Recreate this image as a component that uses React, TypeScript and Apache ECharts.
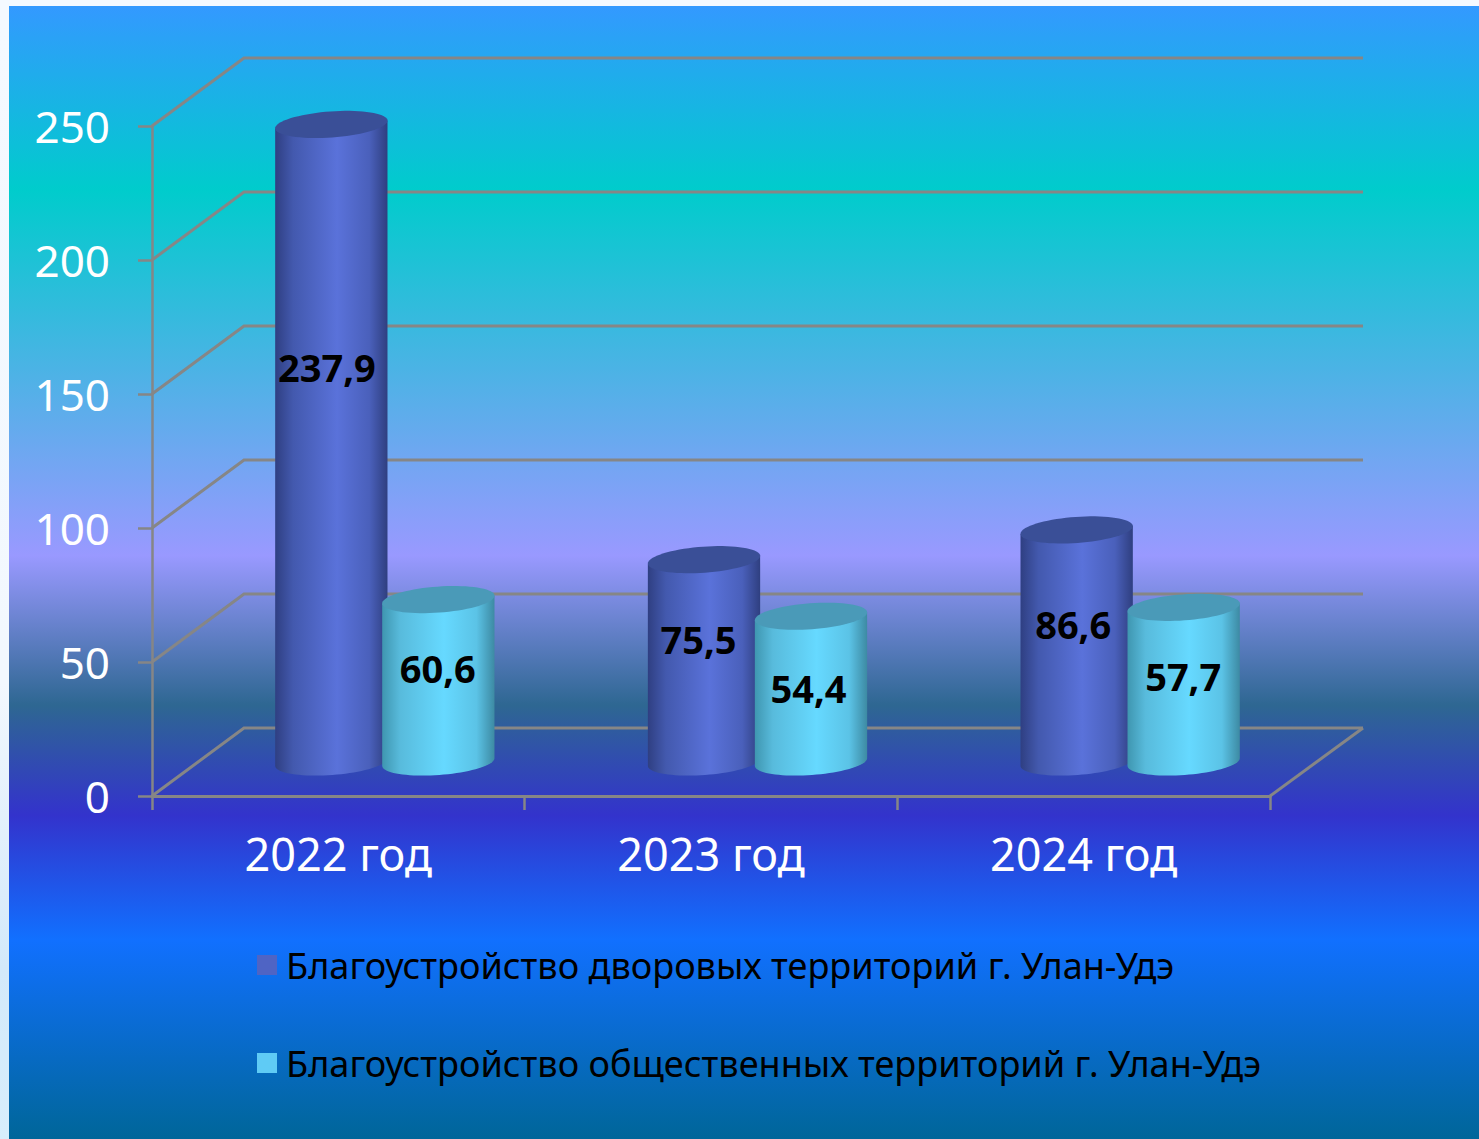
import React, { useEffect, useRef } from "react";
import * as echarts from "echarts";

const categories = ["2022 год", "2023 год", "2024 год"];
const yardValues = [237.9, 75.5, 86.6];
const publicValues = [60.6, 54.4, 57.7];
const yardLabels = ["237,9", "75,5", "86,6"];
const publicLabels = ["60,6", "54,4", "57,7"];
const yTicks = [0, 50, 100, 150, 200, 250];
const yardName = "Благоустройство дворовых территорий г. Улан-Удэ";
const publicName = "Благоустройство общественных территорий г. Улан-Удэ";

// 3D projection and layout constants (pixels)
const DEPTH_X = 92;
const DEPTH_Y = 68;
const RX = 56.3;
const RY = 13;
const TILT = Math.atan(8 / 111);
const SERIES_OFFSET = 53.5;
const yardLabelShift = [[-4.5, -76], [-5.5, -22], [-3.5, -22]];
const publicLabelShift = [[-0.5, -13], [-2.5, -1], [-0.5, -9]];

const FONT = '"Noto Sans", sans-serif';
const GRID = "#868686";

function ellipsePoint(cx: number, cy: number, t: number) {
  const c = Math.cos(t), s = Math.sin(t);
  return [
    cx + RX * c * Math.cos(TILT) + RY * s * Math.sin(TILT),
    cy - RX * c * Math.sin(TILT) + RY * s * Math.cos(TILT),
  ];
}

function arc(cx: number, cy: number, from: number, to: number, n: number) {
  const pts: number[][] = [];
  for (let i = 0; i <= n; i++) pts.push(ellipsePoint(cx, cy, from + ((to - from) * i) / n));
  return pts;
}

function bodyGradient(stops: string[]) {
  return new echarts.graphic.LinearGradient(0, 0, 1, 0, [
    { offset: 0, color: stops[0] },
    { offset: 0.16, color: stops[1] },
    { offset: 0.55, color: stops[2] },
    { offset: 0.84, color: stops[3] },
    { offset: 1, color: stops[4] },
  ]);
}

const yardBody = ["#2f3f82", "#4359ae", "#5a72da", "#4a60bb", "#2f3f80"];
const publicBody = ["#3f96b0", "#58bbdc", "#66d9ff", "#5bc3e6", "#3d8aa3"];

function cylinderSeries(
  name: string,
  values: number[],
  labels: string[],
  shifts: number[][],
  sign: number,
  body: string[],
  top: string,
) {
  return {
    type: "custom",
    name,
    coordinateSystem: "cartesian2d",
    clip: false,
    silent: true,
    encode: { x: 0, y: 1 },
    data: values.map((v, i) => [i, v]),
    renderItem(_p: any, api: any) {
      const i = api.value(0);
      const p = api.coord([i, api.value(1)]);
      const base = api.coord([i, 0]);
      const cx = p[0] + DEPTH_X / 2 + 0.5 + sign * SERIES_OFFSET;
      const topY = p[1] - DEPTH_Y / 2;
      const botY = base[1] - DEPTH_Y / 2;
      const lower = arc(cx, botY, Math.PI, 0, 40);
      const tl = ellipsePoint(cx, topY, Math.PI);
      const tr = ellipsePoint(cx, topY, 0);
      return {
        type: "group",
        children: [
          {
            type: "polygon",
            shape: { points: [tl, ...lower, tr] },
            style: { fill: bodyGradient(body) },
          },
          {
            type: "polygon",
            shape: { points: arc(cx, topY, 0, Math.PI * 2, 72) },
            style: { fill: top },
          },
          {
            type: "text",
            x: cx + shifts[i][0],
            y: (topY + botY) / 2 + shifts[i][1],
            z2: 10,
            style: {
              text: labels[i],
              fill: "#000000",
              font: `bold 38px ${FONT}`,
              align: "center",
              verticalAlign: "middle",
            },
          },
        ],
      };
    },
  };
}

const wallSeries = {
  type: "custom",
  name: "walls",
  coordinateSystem: "cartesian2d",
  clip: false,
  silent: true,
  encode: { x: 0, y: 1 },
  data: yTicks.map((v) => [0, v]),
  renderItem(params: any, api: any) {
    const y = api.coord([0, api.value(1)])[1];
    const left = params.coordSys.x;
    const right = left + params.coordSys.width;
    const children: any[] = [
      {
        type: "polyline",
        shape: {
          points: [
            [left, y],
            [left + DEPTH_X, y - DEPTH_Y],
            [right + DEPTH_X + 1, y - DEPTH_Y],
          ],
        },
        style: { stroke: GRID, lineWidth: 3, fill: "none" },
      },
    ];
    if (api.value(1) === 0) {
      children.push({
        type: "line",
        shape: { x1: right, y1: y, x2: right + DEPTH_X + 1, y2: y - DEPTH_Y },
        style: { stroke: GRID, lineWidth: 3 },
      });
    }
    return { type: "group", children };
  },
};

export default function App() {
  const ref = useRef<HTMLDivElement>(null);
  useEffect(() => {
    document.body.style.margin = "0";
    const chart = echarts.init(ref.current!, undefined, { renderer: "svg" });
    chart.setOption({
      animation: false,
      backgroundColor: new echarts.graphic.LinearGradient(0, 0, 0, 1, [
        { offset: 0, color: "#3399ff" },
        { offset: 0.162, color: "#00cccc" },
        { offset: 0.485, color: "#9999ff" },
        { offset: 0.617, color: "#2e6792" },
        { offset: 0.714, color: "#3333cc" },
        { offset: 0.824, color: "#1170ff" },
        { offset: 1, color: "#006699" },
      ]),
      grid: { left: 143, top: 120, width: 1118, height: 670, containLabel: false },
      tooltip: { show: false },
      xAxis: {
        type: "category",
        data: categories,
        axisLine: { lineStyle: { color: GRID, width: 3 } },
        axisTick: { show: true, length: 14, alignWithLabel: false, lineStyle: { color: GRID, width: 2.5 } },
        axisLabel: { color: "#ffffff", fontFamily: FONT, fontSize: 45, margin: 27, lineHeight: 60 },
        splitLine: { show: false },
      },
      yAxis: {
        type: "value",
        min: 0,
        max: 250,
        interval: 50,
        axisLine: { show: true, lineStyle: { color: GRID, width: 2.5 } },
        axisTick: { show: true, length: 14, lineStyle: { color: GRID, width: 2.5 } },
        axisLabel: { color: "#ffffff", fontFamily: FONT, fontSize: 44, margin: 42 },
        splitLine: { show: false },
      },
      legend: {
        show: true,
        orient: "vertical",
        left: 248,
        top: 930,
        padding: 0,
        itemGap: 40,
        itemWidth: 20,
        itemHeight: 20,
        selectedMode: false,
        textStyle: { color: "#000000", fontFamily: FONT, fontSize: 36.1, padding: [0, 0, 8, 4], lineHeight: 50 },
        data: [
          { name: yardName, icon: "rect", itemStyle: { color: "#4f64c4" } },
          { name: publicName, icon: "rect", itemStyle: { color: "#5fcbf5" } },
        ],
      },
      series: [
        wallSeries,
        cylinderSeries(yardName, yardValues, yardLabels, yardLabelShift, -1, yardBody, "#3a4f97"),
        cylinderSeries(publicName, publicValues, publicLabels, publicLabelShift, 1, publicBody, "#4a9ab8"),
      ],
    });
    return () => chart.dispose();
  }, []);

  return (
    <div
      style={{
        position: "absolute",
        left: 0,
        top: 0,
        width: 1479,
        height: 1139,
        overflow: "hidden",
        background: "linear-gradient(180deg, #f4f9ff 0%, #f2f8fe 60%, #d3e9fa 85%, #d7eefc 100%)",
      }}
    >
      <div ref={ref} style={{ position: "absolute", left: 9, top: 6, width: 1470, height: 1133 }} />
    </div>
  );
}
